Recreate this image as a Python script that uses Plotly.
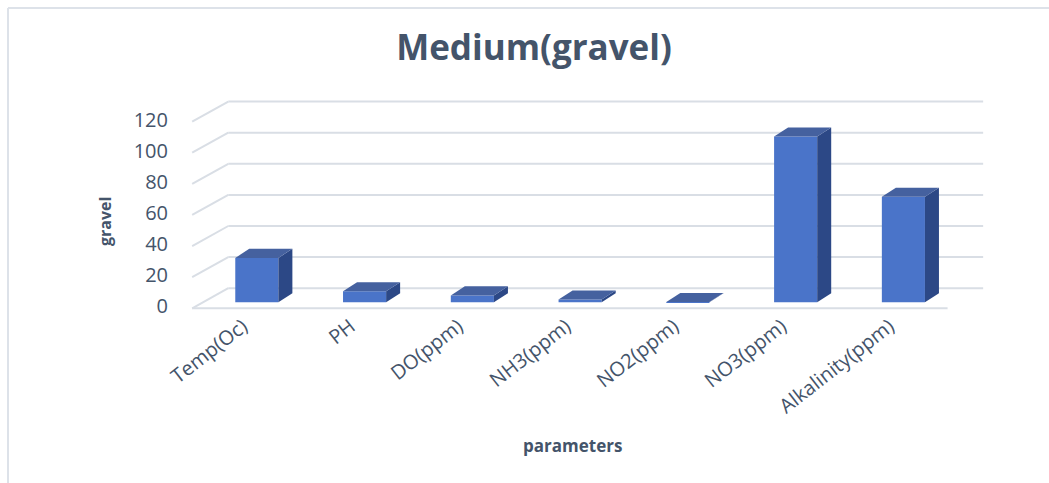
import plotly.graph_objects as go

# ---- data ----
categories = ["Temp(Oc)", "PH", "DO(ppm)", "NH3(ppm)", "NO2(ppm)", "NO3(ppm)", "Alkalinity(ppm)"]
values = [28.5, 7.0, 4.4, 1.8, 0.1, 106.5, 67.8]
y_ticks = [0, 20, 40, 60, 80, 100, 120]

# ---- style / geometry constants ----
W, H = 1049, 483
ML, MR, MT, MB = 176, 54, 100, 173
X_RANGE = [-0.75, 6.85]
Y_RANGE = [-5, 130]
BAR_W = 0.4
DEPTH_X = 0.13
DEPTH_Y = 5.8
WALL_FRONT_X, WALL_BACK_X = -0.6, -0.265
WALL_FRONT_DY, WALL_BACK_DY = -3.9, 9.0
BACK_RIGHT_X, FLOOR_RIGHT_X = 6.74, 6.41
GRID_COLOR = "#d9dee5"
TEXT_COLOR = "#44546a"
FRONT_COLOR = "#4a74c9"
TOP_COLOR = "#45619f"
SIDE_COLOR = "#2c4886"
FONT = "Open Sans"

x_idx = list(range(len(categories)))

fig = go.Figure()
fig.add_trace(go.Bar(
    x=x_idx, y=values, width=BAR_W,
    marker=dict(color=FRONT_COLOR, line=dict(width=0)),
    hoverinfo="x+y", showlegend=False,
))

shapes = []
# back wall gridlines + side wall diagonals
for t in y_ticks:
    shapes.append(dict(type="line", xref="x", yref="y", layer="below",
                       x0=WALL_BACK_X, x1=BACK_RIGHT_X, y0=t + WALL_BACK_DY, y1=t + WALL_BACK_DY,
                       line=dict(color=GRID_COLOR, width=2)))
    shapes.append(dict(type="line", xref="x", yref="y", layer="below",
                       x0=WALL_FRONT_X, x1=WALL_BACK_X, y0=t + WALL_FRONT_DY, y1=t + WALL_BACK_DY,
                       line=dict(color=GRID_COLOR, width=2)))
# floor front edge
shapes.append(dict(type="line", xref="x", yref="y", layer="below",
                   x0=WALL_FRONT_X, x1=FLOOR_RIGHT_X, y0=y_ticks[0] + WALL_FRONT_DY, y1=y_ticks[0] + WALL_FRONT_DY,
                   line=dict(color=GRID_COLOR, width=2)))

# 3D faces of each bar (derived from the data values)
for i, v in zip(x_idx, values):
    xl, xr = i - BAR_W / 2, i + BAR_W / 2
    top = f"M {xl} {v} L {xr} {v} L {xr + DEPTH_X} {v + DEPTH_Y} L {xl + DEPTH_X} {v + DEPTH_Y} Z"
    side = f"M {xr} {v} L {xr + DEPTH_X} {v + DEPTH_Y} L {xr + DEPTH_X} {DEPTH_Y} L {xr} 0 Z"
    shapes.append(dict(type="path", xref="x", yref="y", path=side,
                       fillcolor=SIDE_COLOR, line=dict(width=0)))
    shapes.append(dict(type="path", xref="x", yref="y", path=top,
                       fillcolor=TOP_COLOR, line=dict(width=0)))

# chart border (top and left)
pw, ph = W - ML - MR, H - MT - MB
def px2paper_x(px):
    return (px - ML) / pw
def px2paper_y(py):
    return (H - MB - py) / ph
shapes.append(dict(type="line", xref="paper", yref="paper",
                   x0=px2paper_x(8), x1=px2paper_x(W), y0=px2paper_y(8), y1=px2paper_y(8),
                   line=dict(color="#dde2e9", width=2)))
shapes.append(dict(type="line", xref="paper", yref="paper",
                   x0=px2paper_x(8), x1=px2paper_x(8), y0=px2paper_y(8), y1=px2paper_y(H),
                   line=dict(color="#dde2e9", width=2)))

annotations = [
    dict(text="<b>parameters</b>", xref="paper", yref="paper",
         x=px2paper_x(572), y=px2paper_y(445), showarrow=False,
         font=dict(family=FONT, size=17, color=TEXT_COLOR), xanchor="center", yanchor="middle"),
    dict(text="<b>gravel</b>", xref="paper", yref="paper",
         x=px2paper_x(105), y=px2paper_y(222), showarrow=False, textangle=-90,
         font=dict(family=FONT, size=16, color=TEXT_COLOR), xanchor="center", yanchor="middle"),
]

fig.update_layout(
    width=W, height=H,
    margin=dict(l=ML, r=MR, t=MT, b=MB),
    paper_bgcolor="white", plot_bgcolor="white",
    title=dict(text="<b>Medium(gravel)</b>", x=534 / W, xanchor="center",
               y=1 - 48 / H, yanchor="middle", yref="container",
               font=dict(family=FONT, size=35, color=TEXT_COLOR)),
    xaxis=dict(range=X_RANGE, tickvals=x_idx, ticktext=categories, tickangle=-38,
               showgrid=False, zeroline=False, showline=False, ticks="",
               ticklabelstandoff=0, ticklabelshift=-14,
               tickfont=dict(family=FONT, size=20, color=TEXT_COLOR)),
    yaxis=dict(range=Y_RANGE, tickvals=y_ticks, showgrid=False, zeroline=False,
               showline=False, ticks="", ticklabelstandoff=7, ticklabelshift=4,
               tickfont=dict(family=FONT, size=20, color=TEXT_COLOR)),
    shapes=shapes, annotations=annotations,
    bargap=0.6,
)

fig.write_html("out.html")
